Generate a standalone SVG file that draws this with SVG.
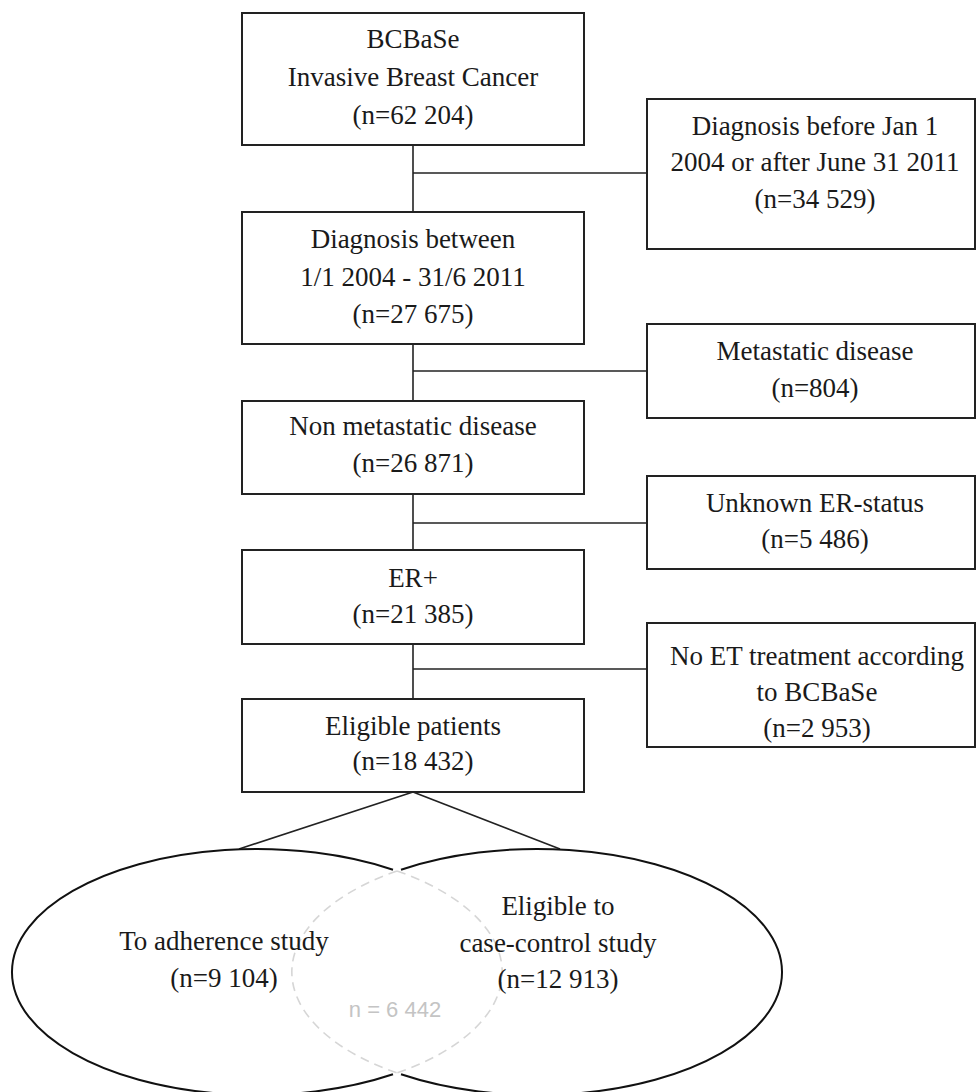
<svg xmlns="http://www.w3.org/2000/svg" width="976" height="1092" viewBox="0 0 976 1092">
<style>
.box{fill:#fff;stroke:#222;stroke-width:2}
.conn{stroke:#222;stroke-width:1.6;fill:none}
.t{font-family:"Liberation Serif","Times New Roman",serif;font-size:27px;fill:#1a1a1a;text-anchor:middle}
.venn{fill:none;stroke:#111;stroke-width:2}
.inner{fill:none;stroke:#d6d6d6;stroke-width:1.6;stroke-dasharray:9 6}
.g{font-family:"Liberation Sans","Open Sans",sans-serif;font-size:22px;fill:#c4c4c4;text-anchor:middle}
</style>
<rect width="976" height="1092" fill="#fff"/>
<g id="connectors">
<line class="conn" x1="413" y1="145" x2="413" y2="212"/>
<line class="conn" x1="413" y1="173" x2="647" y2="173"/>
<line class="conn" x1="413" y1="344" x2="413" y2="401"/>
<line class="conn" x1="413" y1="371" x2="647" y2="371"/>
<line class="conn" x1="413" y1="494" x2="413" y2="550"/>
<line class="conn" x1="413" y1="523" x2="647" y2="523"/>
<line class="conn" x1="413" y1="644" x2="413" y2="699"/>
<line class="conn" x1="413" y1="669" x2="647" y2="669"/>
<line class="conn" x1="413" y1="792" x2="239" y2="849"/>
<line class="conn" x1="413" y1="792" x2="560" y2="849"/>
</g>
<g id="n1">
<rect class="box" x="242" y="13" width="342" height="132"/>
<text class="t" x="413" y="48">BCBaSe</text>
<text class="t" x="413" y="86">Invasive Breast Cancer</text>
<text class="t" x="413" y="124">(n=62 204)</text>
</g>
<g id="x1">
<rect class="box" x="647" y="99" width="328" height="150"/>
<text class="t" x="815" y="135">Diagnosis before Jan 1</text>
<text class="t" x="815" y="171">2004 or after June 31 2011</text>
<text class="t" x="815" y="208">(n=34 529)</text>
</g>
<g id="n2">
<rect class="box" x="242" y="212" width="342" height="132"/>
<text class="t" x="413" y="248">Diagnosis between</text>
<text class="t" x="413" y="286">1/1 2004 - 31/6 2011</text>
<text class="t" x="413" y="323">(n=27 675)</text>
</g>
<g id="x2">
<rect class="box" x="647" y="324" width="328" height="94"/>
<text class="t" x="815" y="360">Metastatic disease</text>
<text class="t" x="815" y="397">(n=804)</text>
</g>
<g id="n3">
<rect class="box" x="242" y="401" width="342" height="93"/>
<text class="t" x="413" y="435">Non metastatic disease</text>
<text class="t" x="413" y="472">(n=26 871)</text>
</g>
<g id="x3">
<rect class="box" x="647" y="476" width="328" height="93"/>
<text class="t" x="815" y="512">Unknown ER-status</text>
<text class="t" x="815" y="548">(n=5 486)</text>
</g>
<g id="n4">
<rect class="box" x="242" y="550" width="342" height="94"/>
<text class="t" x="413" y="587">ER+</text>
<text class="t" x="413" y="623">(n=21 385)</text>
</g>
<g id="x4">
<rect class="box" x="647" y="623" width="328" height="124"/>
<text class="t" x="817" y="665">No ET treatment according</text>
<text class="t" x="817" y="701">to BCBaSe</text>
<text class="t" x="817" y="737">(n=2 953)</text>
</g>
<g id="n5">
<rect class="box" x="242" y="699" width="342" height="93"/>
<text class="t" x="413" y="735">Eligible patients</text>
<text class="t" x="413" y="770">(n=18 432)</text>
</g>
<g id="venn">
<path class="inner" d="M397,871 A245,123 0 0,1 397,1073"/>
<path class="inner" d="M397,871 A245,123 0 0,0 397,1073"/>
<path class="venn" d="M393,869.7 A245,123 0 1,0 393,1074.3"/>
<path class="venn" d="M401,869.7 A245,123 0 1,1 401,1074.3"/>
</g>
<g id="adherence">
<text class="t" x="224" y="950">To adherence study</text>
<text class="t" x="224" y="987">(n=9 104)</text>
</g>
<g id="casecontrol">
<text class="t" x="558" y="915">Eligible to</text>
<text class="t" x="558" y="952">case-control study</text>
<text class="t" x="558" y="988">(n=12 913)</text>
</g>
<g id="overlap">
<text class="g" x="395" y="1017">n = 6 442</text>
</g>
</svg>
